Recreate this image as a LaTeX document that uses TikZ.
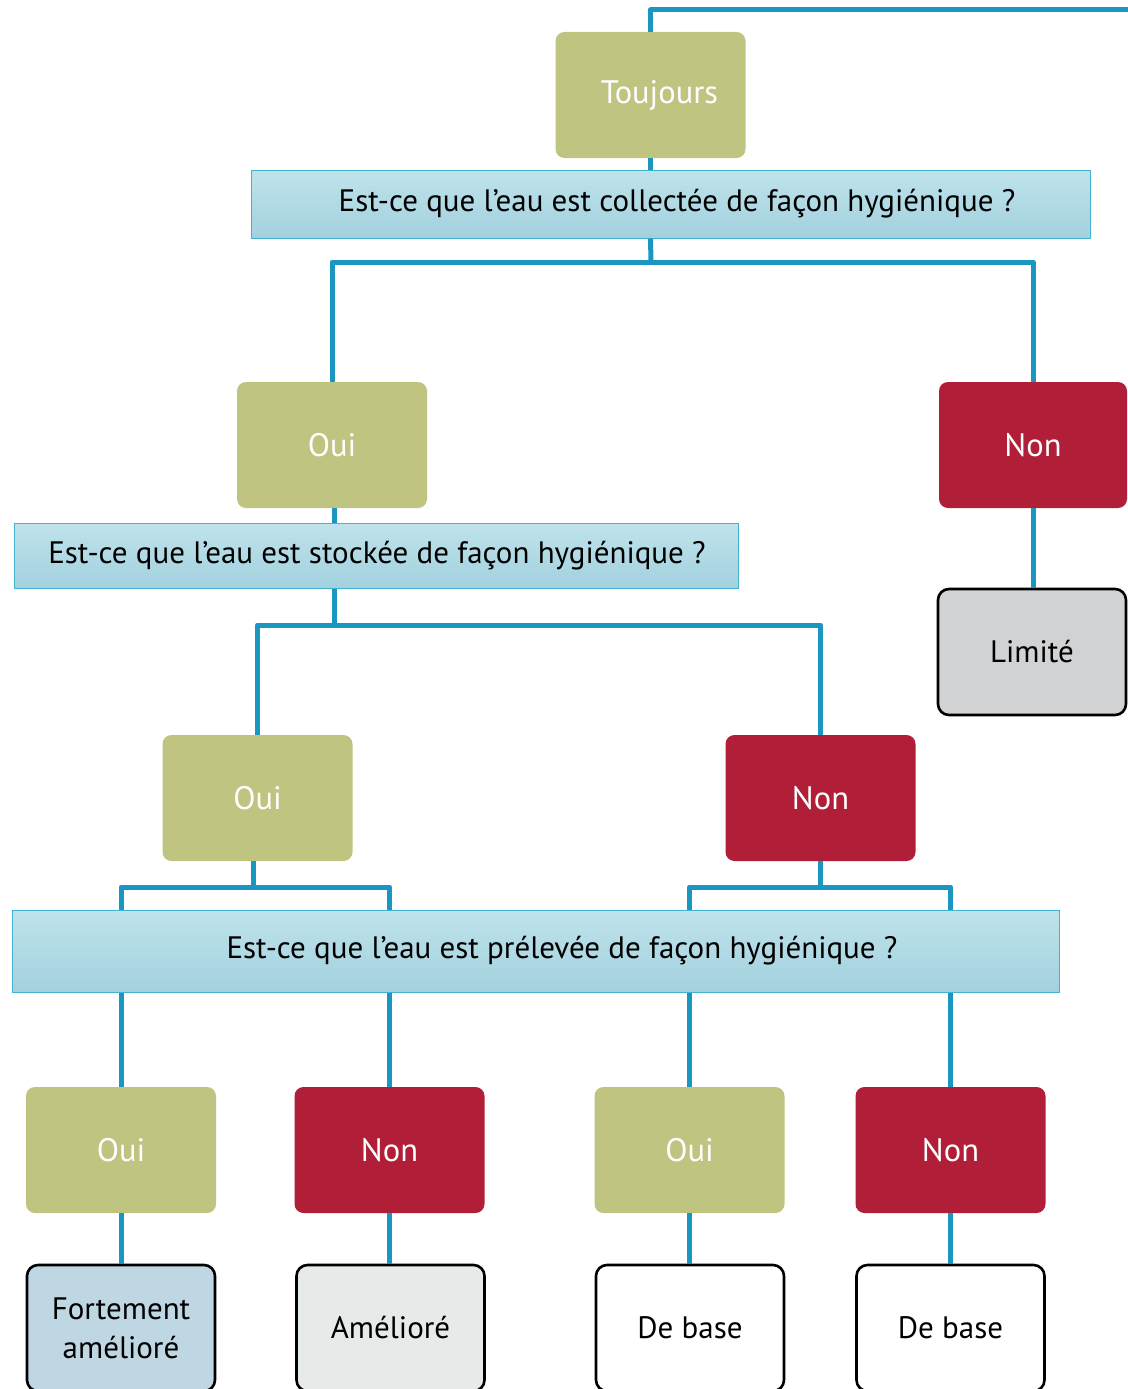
\documentclass[tikz,border=0pt]{standalone}
\usepackage{fontspec}
\setmainfont{PT Sans}
\definecolor{cOlive}{HTML}{BFC480}
\definecolor{cRed}{HTML}{B01F37}
\definecolor{cLine}{HTML}{1A96C0}
\definecolor{cBarTop}{HTML}{BFE3EB}
\definecolor{cBarBot}{HTML}{A2D1DE}
\definecolor{cBarEdge}{HTML}{45B2D2}
\definecolor{cLim}{HTML}{D1D2D4}
\definecolor{cFort}{HTML}{BFD6E3}
\definecolor{cAmel}{HTML}{E6EBEA}
\begin{document}
\begin{tikzpicture}[x=1pt,y=-1pt,
  ans/.style={rounded corners=9pt, minimum width=190pt, minimum height=126pt, inner sep=0pt, text=white, font=\fontsize{32.5}{36}\selectfont},
  oui/.style={ans, fill=cOlive},
  non/.style={ans, fill=cRed},
  res/.style={rounded corners=11pt, draw=black, line width=2.6pt, minimum width=188pt, minimum height=126pt, inner sep=0pt, align=center, font=\fontsize{31}{39}\selectfont},
  qbar/.style={top color=cBarTop, bottom color=cBarBot, draw=cBarEdge, line width=1pt, inner sep=0pt},
  qtext/.style={font=\fontsize{31}{34}\selectfont, inner sep=0pt},
  conn/.style={draw=cLine, line width=5pt, line join=round}
]
\useasboundingbox (0,0) rectangle (1127,1389);

% nodes
\node[oui] (tj) at (650.5,95) {\hspace*{18pt}Toujours};
\node[qbar, minimum width=839pt, minimum height=68pt] (q1) at (670.5,204) {};
\node[qtext] (q1t) at (677,204) {Est-ce que l’eau est collectée de façon hygiénique ?};

\node[oui] (oui1) at (332,445) {Oui};
\node[non, minimum width=188pt] (non1) at (1033,445) {Non};
\node[res, fill=cLim] (lim) at (1032,652) {Limité};

\node[qbar, minimum width=724pt, minimum height=65pt] (q2) at (376,555.5) {};
\node[qtext] (q2t) at (377,555.5) {Est-ce que l’eau est stockée de façon hygiénique ?};

\node[oui] (oui2) at (257.5,798) {Oui};
\node[non] (non2) at (820.5,798) {Non};

\node[qbar, minimum width=1047pt, minimum height=82pt] (q3) at (535.5,951) {};
\node[qtext] (q3t) at (562,951) {Est-ce que l’eau est prélevée de façon hygiénique ?};

\node[oui] (oui3) at (121,1150) {Oui};
\node[non] (non3) at (389.5,1150) {Non};
\node[oui] (oui4) at (689.5,1150) {Oui};
\node[non] (non4) at (950.5,1150) {Non};

\node[res, fill=cFort] (r1) at (121,1328) {Fortement\\amélioré};
\node[res, fill=cAmel] (r2) at (390.5,1328) {Amélioré};
\node[res, fill=white] (r3) at (690,1328) {De base};
\node[res, fill=white] (r4) at (950.5,1328) {De base};

% junction coordinates
\coordinate (topend) at (1140,10);
\coordinate (j1) at (651,262);
\coordinate (j2) at (334,625);
\coordinate (j3) at (253,887);
\coordinate (j4) at (820.5,887);

% connectors
\draw[conn] (tj.north) |- (topend);
\draw[conn] (tj.south) -- (tj.south |- q1.north);
\draw[conn] (tj.south |- q1.south) -- (j1);
\draw[conn] (j1) -| (oui1.north);
\draw[conn] (j1) -| (non1.north);
\draw[conn] (non1.south) -- (non1.south |- lim.north);

\draw[conn] (j2 |- oui1.south) -- (j2 |- q2.north);
\draw[conn] (j2 |- q2.south) -- (j2);
\draw[conn] (j2) -| (oui2.north);
\draw[conn] (j2) -| (non2.north);

\draw[conn] (j3 |- oui2.south) -- (j3);
\draw[conn] (j3) -| (oui3.north |- q3.north);
\draw[conn] (j3) -| (non3.north |- q3.north);
\draw[conn] (non2.south) -- (j4);
\draw[conn] (j4) -| (oui4.north |- q3.north);
\draw[conn] (j4) -| (non4.north |- q3.north);

\draw[conn] (oui3.north |- q3.south) -- (oui3.north);
\draw[conn] (non3.north |- q3.south) -- (non3.north);
\draw[conn] (oui4.north |- q3.south) -- (oui4.north);
\draw[conn] (non4.north |- q3.south) -- (non4.north);

\draw[conn] (oui3.south) -- (oui3.south |- r1.north);
\draw[conn] (non3.south) -- (non3.south |- r2.north);
\draw[conn] (oui4.south) -- (oui4.south |- r3.north);
\draw[conn] (non4.south) -- (non4.south |- r4.north);
\end{tikzpicture}
\end{document}
